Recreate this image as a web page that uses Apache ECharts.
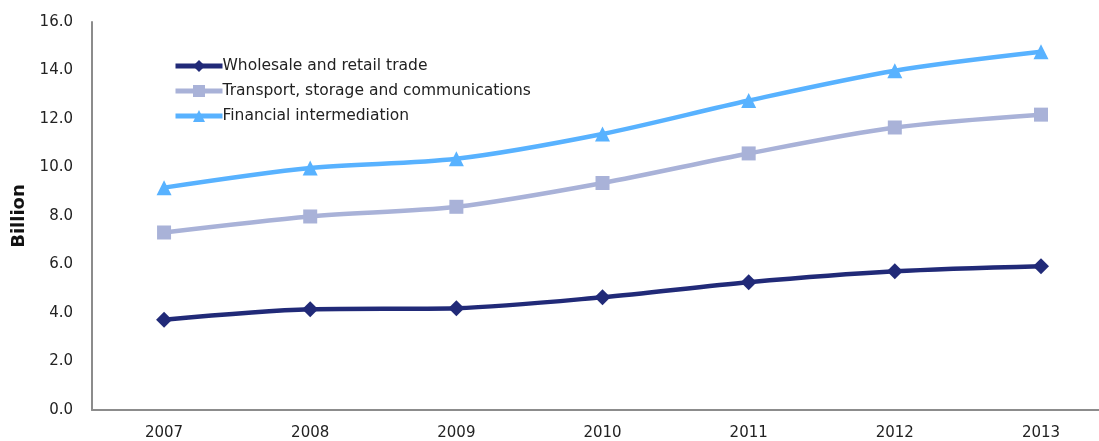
<!DOCTYPE html>
<html>
<head>
<meta charset="utf-8">
<script src="https://cdn.jsdelivr.net/npm/echarts@6/dist/echarts.min.js"></script>
<style>
  html, body { margin: 0; padding: 0; background: #fff; }
  #chart { width: 1099px; height: 441px; }
</style>
</head>
<body>
<div id="chart"></div>
<script>
const years = [2007, 2008, 2009, 2010, 2011, 2012, 2013]
const wholesale = [3.72, 4.15, 4.2, 4.65, 5.27, 5.72, 5.93]
const transport = [7.32, 7.98, 8.38, 9.36, 10.58, 11.65, 12.18]
const financial = [9.17, 9.98, 10.36, 11.38, 12.76, 13.99, 14.77]

const chart = echarts.init(document.getElementById('chart'))

function line(name, data, color, symbol, size) {
  return {
    name: name,
    type: 'line',
    data: years.map((y, i) => [y, data[i]]),
    smooth: 0.3,
    symbol: symbol,
    symbolSize: size,
    lineStyle: { color: color, width: 4.5 },
    itemStyle: { color: color },
    emphasis: { disabled: true }
  }
}

const option = {
  animation: false,
  textStyle: { fontFamily: 'DejaVu Sans' },
  grid: { left: 92, right: 0, top: 22, bottom: 29 },
  legend: {
    orient: 'vertical',
    left: 168,
    top: 53,
    itemGap: 9,
    itemWidth: 47,
    itemHeight: 15,
    lineStyle: { width: 5 },
    textStyle: { fontSize: 15.5, color: '#222', padding: [0, 0, 0, -5] },
    data: ['Wholesale and retail trade', 'Transport, storage and communications', 'Financial intermediation']
  },
  xAxis: {
    type: 'value',
    min: 2006.507,
    max: 2013.397,
    splitLine: { show: false },
    axisLine: { lineStyle: { color: '#8c8c8c', width: 2 } },
    axisTick: { show: false },
    axisLabel: {
      customValues: years,
      fontSize: 15,
      color: '#222',
      margin: 16,
      formatter: v => String(v)
    }
  },
  yAxis: {
    type: 'value',
    min: 0,
    max: 16,
    interval: 2,
    name: 'Billion',
    nameLocation: 'middle',
    nameGap: 61,
    nameTextStyle: { fontSize: 18, fontWeight: 'bold', color: '#111' },
    axisLine: { show: true, lineStyle: { color: '#8c8c8c', width: 2 } },
    axisTick: { show: false },
    splitLine: { show: false },
    axisLabel: { fontSize: 15, color: '#222', margin: 19, formatter: v => v.toFixed(1) }
  },
  series: [
    line('Wholesale and retail trade', wholesale, '#212a78', 'diamond', 16),
    line('Transport, storage and communications', transport, '#a9b2d8', 'rect', 14),
    line('Financial intermediation', financial, '#58b2ff', 'triangle', 15)
  ]
}

chart.setOption(option)
</script>
</body>
</html>
